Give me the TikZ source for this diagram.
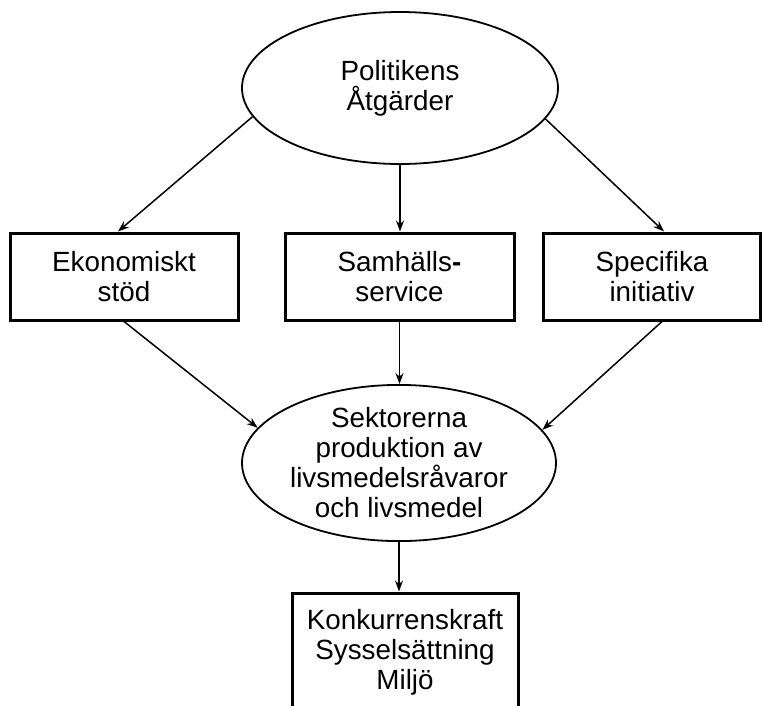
\documentclass[tikz,border=0pt]{standalone}
\usepackage{fontspec}
\setmainfont{Liberation Sans}
\usetikzlibrary{shapes.geometric,arrows.meta,calc}
\begin{document}
\begin{tikzpicture}[x=1pt,y=-1pt,
  txt/.style={align=center, font=\fontsize{27.8}{30}\selectfont},
  ell/.style={txt, ellipse, draw, line width=1.8pt, inner sep=0pt},
  boxnode/.style={txt, rectangle, draw, line width=3pt, inner sep=0pt, minimum height=87pt},
  arr/.style={-{Stealth[length=11pt,width=8pt]}, line width=1.5pt}]
\useasboundingbox (0,0) rectangle (763,705);
\clip (0,0) rectangle (763,705);
\node[ell, minimum width=316pt, minimum height=152pt] (pol) at (400,88) {Politikens\\Åtgärder};
\node[boxnode, minimum width=228pt] (eko) at (124,276.5) {Ekonomiskt\\stöd};
\node[boxnode, minimum width=229pt] (sam) at (399.5,276.5) {Samhälls\textbf{-}\\service};
\node[boxnode, minimum width=217pt] (spe) at (652,276.5) {Specifika\\initiativ};
\node[ell, minimum width=314pt, minimum height=152pt] (sek) at (399,463) {Sektorerna\\produktion av\\livsmedelsråvaror\\och livsmedel};
\node[boxnode, minimum width=226pt, minimum height=118pt] (kon) at (405,652) {Konkurrenskraft\\Sysselsättning\\Miljö};
\draw[arr] (pol.191) -- ($(eko.north)+(-6,0)$);
\draw[arr] (pol.south) -- (pol.south |- sam.north);
\draw[arr] (pol.348) -- ($(spe.north)+(12,0)$);
\draw[arr] (eko.south) -- (sek.166);
\draw[arr] (sam.south) -- (sam.south |- sek.north);
\draw[arr] ($(spe.south)+(10,0)$) -- (sek.13);
\draw[arr] (sek.south) -- (sek.south |- kon.north);
\end{tikzpicture}
\end{document}
